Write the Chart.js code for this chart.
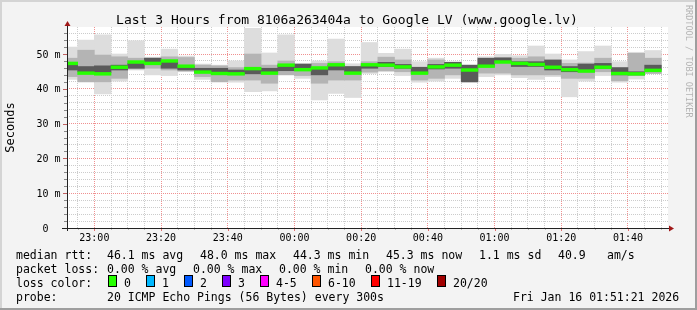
<!DOCTYPE html>
<html>
<head>
<meta charset="utf-8">
<script src="https://cdn.jsdelivr.net/npm/chart.js@4"></script>
<style>
  html, body { margin: 0; padding: 0; background: #f3f3f3; }
  canvas { display: block; }
</style>
</head>
<body>
<canvas id="smokeChart" width="697" height="310"></canvas>
<script>
// 5 minute steps, labelled by the end of each step
const intervalEnds = ['22:55', '23:00', '23:05', '23:10', '23:15', '23:20', '23:25', '23:30', '23:35',
    '23:40', '23:45', '23:50', '23:55', '00:00', '00:05', '00:10', '00:15', '00:20', '00:25', '00:30',
    '00:35', '00:40', '00:45', '00:50', '00:55', '01:00', '01:05', '01:10', '01:15', '01:20', '01:25',
    '01:30', '01:35', '01:40', '01:45', '01:50'];

// median rtt (ms)
const medianRtt = [47.3, 44.5, 44.3, 46.2, 47.7, 47.3, 48.0, 46.5, 44.8, 44.4, 44.3, 45.8, 44.5, 46.8,
    45.5, 46.0, 46.9, 44.5, 46.9, 46.8, 46.3, 44.5, 46.3, 46.8, 45.4, 46.5, 47.7, 47.3, 47.0, 46.2,
    45.5, 45.1, 46.2, 44.4, 44.3, 45.3];

// smoke: full spread of the 20 pings
const smokeMin = [42.7, 42.0, 38.5, 42.2, 45.4, 44.0, 43.8, 44.9, 42.7, 42.0, 41.9, 39.2, 39.4, 45.4,
    43.0, 36.8, 38.7, 37.5, 44.4, 44.9, 43.8, 41.9, 42.2, 43.0, 41.9, 43.5, 44.0, 43.2, 42.7, 43.5,
    37.7, 42.2, 43.8, 41.9, 42.8, 44.4];
const smokeMax = [52.0, 54.0, 55.5, 50.0, 53.8, 49.1, 51.4, 49.4, 47.1, 46.8, 48.0, 57.4, 50.3, 55.5,
    47.3, 48.0, 54.3, 47.2, 53.3, 50.2, 51.4, 47.8, 48.8, 47.8, 46.8, 49.2, 49.9, 49.5, 52.3, 50.0,
    48.3, 50.7, 52.3, 47.8, 50.5, 51.0];

// smoke: middle pings
const midLow = [43.5, 42.0, 42.0, 43.0, 45.7, 45.9, 45.4, 45.1, 43.5, 42.0, 42.5, 42.5, 41.6, 44.0,
    43.8, 41.6, 42.5, 42.5, 44.8, 45.2, 44.9, 42.5, 43.0, 44.0, 42.0, 44.5, 44.5, 44.0, 44.0, 44.0,
    43.0, 43.0, 44.9, 42.3, 43.8, 44.4];
const midHigh = [48.8, 51.1, 49.7, 49.2, 48.8, 48.8, 49.2, 49.0, 46.8, 46.6, 46.1, 50.0, 46.8, 48.0,
    47.0, 47.3, 47.8, 46.4, 47.8, 49.1, 48.3, 46.0, 48.3, 47.6, 46.5, 48.7, 48.9, 48.8, 49.2, 48.0,
    47.3, 47.4, 48.8, 46.0, 50.2, 48.8];

// smoke: pings closest to the median
const coreLow = [45.4, 44.9, 44.7, 45.4, 45.9, 47.6, 45.9, 45.4, 44.7, 44.8, 44.2, 44.3, 44.7, 45.2,
    45.6, 44.0, 45.4, 44.9, 45.9, 46.4, 45.9, 44.4, 45.7, 45.9, 42.0, 46.4, 47.8, 46.4, 46.4, 45.4,
    44.9, 44.9, 45.9, 44.0, 44.0, 45.4];
const coreHigh = [47.0, 46.4, 46.6, 46.8, 47.3, 48.8, 47.6, 46.4, 45.9, 45.9, 45.4, 45.6, 45.9, 46.8,
    47.1, 45.6, 46.8, 46.4, 46.8, 47.6, 47.0, 46.2, 47.0, 47.6, 46.8, 48.8, 48.9, 47.8, 47.8, 48.3,
    46.4, 47.1, 47.3, 46.1, 44.9, 46.8];

const timeTickLabels = ['23:00', '23:20', '23:40', '00:00', '00:20', '00:40', '01:00', '01:20', '01:40'];
const yTickValues = [0, 10, 20, 30, 40, 50];
const yTickLabels = ['0  ', '10 m', '20 m', '30 m', '40 m', '50 m'];

const titleText = 'Last 3 Hours from 8106a263404a to Google LV (www.google.lv)';
const medianStats = ['46.1 ms avg', '48.0 ms max', '44.3 ms min', '45.3 ms now', '1.1 ms sd', '40.9', 'am/s'];
const lossStats = ['0.00 % avg', '0.00 % max', '0.00 % min', '0.00 % now'];
const lossLabels = ['0', '1', '2', '3', '4-5', '6-10', '11-19', '20/20'];
const lossColors = ['#26ff00', '#00b8ff', '#0059ff', '#7e00ff', '#ff00ff', '#ff5500', '#ff0000', '#a10000'];
const probeText = '20 ICMP Echo Pings (56 Bytes) every 300s';
const stampText = 'Fri Jan 16 01:51:21 2026';

// minutes after 22:00
function toMinutes(hhmm) {
    let [h, m] = hhmm.split(':').map(Number);
    if (h < 12) h += 24;
    return (h - 22) * 60 + m;
}

function stepBars(lows, highs) {
    return intervalEnds.map((t, i) => ({x: toMinutes(t) - 2.5, y: [lows[i], highs[i]]}));
}

const MONO = '"DejaVu Sans Mono", monospace';

const rrdPlugin = {
    id: 'rrdFrame',
    beforeDraw(chart) {
        const ctx = chart.ctx;
        const a = chart.chartArea;
        ctx.save();
        ctx.fillStyle = '#f3f3f3';
        ctx.fillRect(0, 0, chart.width, chart.height);
        // shade frame
        ctx.fillStyle = '#d4d4d4';
        ctx.fillRect(0, 0, chart.width, 2);
        ctx.fillRect(0, 0, 2, chart.height);
        ctx.fillStyle = '#9e9e9e';
        ctx.fillRect(0, chart.height - 2, chart.width, 2);
        ctx.fillRect(chart.width - 2, 0, 2, chart.height);
        ctx.fillStyle = '#ffffff';
        ctx.fillRect(a.left, a.top, a.right - a.left, a.bottom - a.top);
        ctx.restore();
    },
    afterDraw(chart) {
        const ctx = chart.ctx;
        const a = chart.chartArea;
        const xs = chart.scales.x;
        const ys = chart.scales.y;
        ctx.save();

        // tick marks
        xs.ticks.forEach(t => {
            const px = Math.round(xs.getPixelForValue(t.value)) + 0.5;
            const major = t.value % 20 === 0;
            ctx.strokeStyle = major ? '#e07070' : '#bbbbbb';
            ctx.beginPath();
            ctx.moveTo(px, a.bottom);
            ctx.lineTo(px, a.bottom + (major ? 3 : 2));
            ctx.stroke();
        });
        ys.ticks.forEach(t => {
            const py = Math.round(ys.getPixelForValue(t.value)) + 0.5;
            const major = t.value % 10 === 0;
            ctx.strokeStyle = major ? '#c06060' : '#888888';
            ctx.beginPath();
            ctx.moveTo(a.left - (major ? 4 : 3), py);
            ctx.lineTo(a.left, py);
            ctx.stroke();
        });

        // axes
        ctx.strokeStyle = '#222222';
        ctx.lineWidth = 1;
        ctx.beginPath();
        ctx.moveTo(a.left - 5, a.bottom + 0.5);
        ctx.lineTo(a.right + 3, a.bottom + 0.5);
        ctx.moveTo(a.left + 0.5, a.bottom + 3);
        ctx.lineTo(a.left + 0.5, a.top - 1);
        ctx.stroke();

        // arrows
        ctx.fillStyle = '#a01818';
        ctx.beginPath();
        ctx.moveTo(a.left + 0.5, a.top - 6);
        ctx.lineTo(a.left - 2.5, a.top - 1);
        ctx.lineTo(a.left + 3.5, a.top - 1);
        ctx.closePath();
        ctx.fill();
        ctx.beginPath();
        ctx.moveTo(a.right + 6, a.bottom + 0.5);
        ctx.lineTo(a.right + 1, a.bottom - 2.5);
        ctx.lineTo(a.right + 1, a.bottom + 3.5);
        ctx.closePath();
        ctx.fill();

        ctx.fillStyle = '#000000';

        // title
        ctx.font = '13px ' + MONO;
        ctx.textAlign = 'center';
        ctx.textBaseline = 'alphabetic';
        ctx.fillText(titleText, 347, 23.5);

        // x labels
        ctx.font = '10px ' + MONO;
        timeTickLabels.forEach(lbl => {
            ctx.fillText(lbl, xs.getPixelForValue(toMinutes(lbl)), 241);
        });

        // y labels
        ctx.textAlign = 'right';
        yTickValues.forEach((v, i) => {
            ctx.fillText(yTickLabels[i], 60.5, ys.getPixelForValue(v) + 3.5);
        });

        // axis title
        ctx.save();
        ctx.font = '12px ' + MONO;
        ctx.textAlign = 'center';
        ctx.textBaseline = 'middle';
        ctx.translate(10.5, (a.top + a.bottom) / 2);
        ctx.rotate(-Math.PI / 2);
        ctx.fillText('Seconds', 0, 0);
        ctx.restore();

        // watermark
        ctx.save();
        ctx.font = '8.5px ' + MONO;
        ctx.fillStyle = '#b4b4b4';
        ctx.textAlign = 'left';
        ctx.textBaseline = 'middle';
        ctx.translate(688, 5);
        ctx.rotate(Math.PI / 2);
        ctx.fillText('RRDTOOL / TOBI OETIKER', 0, 0);
        ctx.restore();

        // legend
        ctx.font = '11.5px ' + MONO;
        ctx.textAlign = 'left';
        ctx.textBaseline = 'alphabetic';
        ctx.fillText('median rtt:', 16, 258.5);
        [107, 200, 293, 386, 479, 558, 607].forEach((x, i) => ctx.fillText(medianStats[i], x, 258.5));
        ctx.fillText('packet loss:', 16, 272.5);
        [107, 193, 279, 365].forEach((x, i) => ctx.fillText(lossStats[i], x, 272.5));
        ctx.fillText('loss color:', 16, 286.5);
        let bx = 108.5;
        lossLabels.forEach((lbl, i) => {
            ctx.fillStyle = lossColors[i];
            ctx.fillRect(bx, 275.5, 8, 11);
            ctx.strokeStyle = '#000000';
            ctx.strokeRect(bx, 275.5, 8, 11);
            ctx.fillStyle = '#000000';
            const lx = bx + 15.5;
            ctx.fillText(lbl, lx, 286.5);
            bx = Math.round(lx + ctx.measureText(lbl).width + 15) + 0.5;
        });
        ctx.fillText('probe:', 16, 300.5);
        ctx.fillText(probeText, 107, 300.5);
        ctx.fillText(stampText, 513, 300.5);

        ctx.restore();
    }
};

const barStyle = {
    type: 'bar',
    grouped: false,
    barPercentage: 1,
    categoryPercentage: 1,
    borderWidth: 0
};

function initChart() {
    const ctx = document.getElementById('smokeChart').getContext('2d');
    window.chart = new Chart(ctx, {
        type: 'bar',
        data: {
            datasets: [
                {...barStyle, label: 'median', backgroundColor: lossColors[0],
                    data: stepBars(medianRtt.map(m => m - 0.4), medianRtt.map(m => m + 0.4))},
                {...barStyle, label: 'core', backgroundColor: '#5a5a5a', data: stepBars(coreLow, coreHigh)},
                {...barStyle, label: 'mid', backgroundColor: '#b4b4b4', data: stepBars(midLow, midHigh)},
                {...barStyle, label: 'smoke', backgroundColor: '#dddddd', data: stepBars(smokeMin, smokeMax)}
            ]
        },
        options: {
            responsive: false,
            animation: false,
            devicePixelRatio: 1,
            layout: {padding: {left: 67, right: 29, top: 27, bottom: 82}},
            plugins: {
                legend: {display: false},
                tooltip: {enabled: false}
            },
            scales: {
                x: {
                    type: 'linear',
                    offset: false,
                    min: 51.8,
                    max: 232.0,
                    z: 1,
                    ticks: {display: false, stepSize: 5, includeBounds: false, autoSkip: false, maxTicksLimit: 100},
                    grid: {
                        offset: false,
                        drawTicks: false,
                        color: c => (c.tick && c.tick.value % 20 === 0) ? '#f09090' : '#cccccc'
                    },
                    border: {display: false, dash: [1, 1]}
                },
                y: {
                    min: 0,
                    max: 57.76,
                    z: 1,
                    ticks: {display: false, stepSize: 2, includeBounds: false, autoSkip: false, maxTicksLimit: 100},
                    grid: {
                        drawTicks: false,
                        color: c => (c.tick && c.tick.value % 10 === 0) ? '#f09090' : '#cccccc'
                    },
                    border: {display: false, dash: [1, 1]}
                }
            }
        },
        plugins: [rrdPlugin]
    });
}

initChart();
</script>
</body>
</html>
